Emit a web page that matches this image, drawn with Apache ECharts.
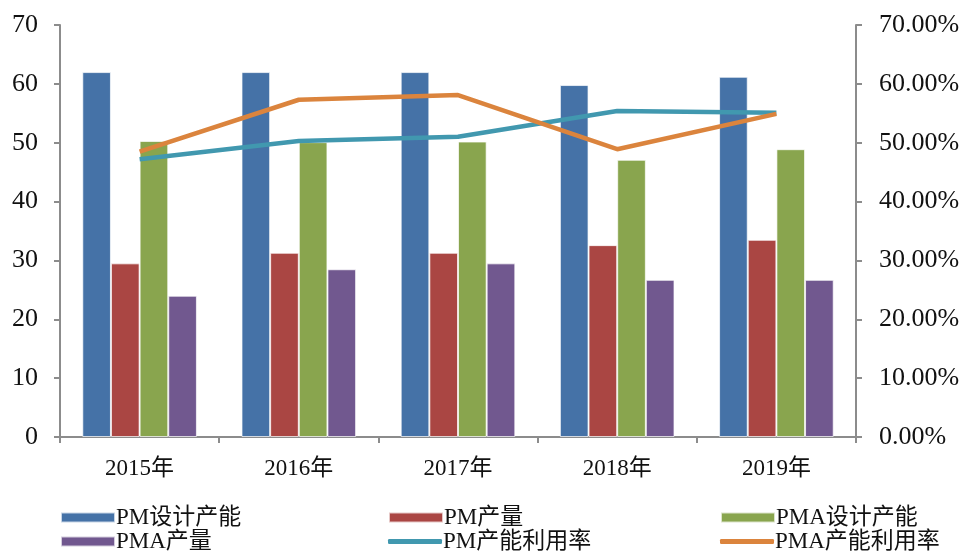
<!DOCTYPE html>
<html>
<head>
<meta charset="utf-8">
<script src="https://cdn.jsdelivr.net/npm/echarts@6/dist/echarts.min.js"></script>
<style>
  html, body { margin: 0; padding: 0; background: #fff; }
  #main { width: 965px; height: 554px; }
</style>
</head>
<body>
<div id="main"></div>
<script>
// 年份
const years = ["2015年", "2016年", "2017年", "2018年", "2019年"];
// 柱状数据（左轴）
const pmCapacity = [62, 62, 62, 59.8, 61.2];
const pmOutput = [29.5, 31.3, 31.3, 32.6, 33.5];
const pmaCapacity = [50.3, 50.1, 50.2, 47.1, 48.9];
const pmaOutput = [24.0, 28.5, 29.5, 26.7, 26.7];
// 利用率（右轴，%）
const pmRate = [47.2, 50.3, 51.0, 55.4, 55.1];
const pmaRate = [48.5, 57.3, 58.1, 48.9, 54.9];

const fontFamily = "'Liberation Serif', 'Noto Sans CJK SC', serif";
const axisColor = "#8c8c8c";

const chart = echarts.init(document.getElementById("main"));

// 每个图例单独放，位置跟原图对齐
function legendItem(name, left, top, isLine) {
  return {
    left: left,
    top: top,
    itemWidth: 54,
    itemHeight: isLine ? 5 : 10,
    icon: isLine ? "roundRect" : "rect",
    data: [name],
    textStyle: { fontFamily: fontFamily, fontSize: 23, color: "#111", padding: [0, 0, 0, -4] },
  };
}

const barStyle = (c) => ({ color: c, borderColor: "rgba(255,255,255,0.7)", borderWidth: 1 });

const option = {
  animation: false,
  color: ["#4572A7", "#AA4643", "#89A54E", "#71588F", "#4198AF", "#DB843D"],
  grid: { left: 60, right: 109, top: 25, bottom: 117 },
  legend: [
    legendItem("PM设计产能", 55, 501, false),
    legendItem("PM产量", 383, 501, false),
    legendItem("PMA设计产能", 715, 501, false),
    legendItem("PMA产量", 55, 525, false),
    legendItem("PM产能利用率", 383, 525, true),
    legendItem("PMA产能利用率", 715, 525, true),
  ],
  xAxis: {
    type: "category",
    data: years,
    axisLine: { lineStyle: { color: axisColor, width: 2 } },
    axisTick: { show: true, length: 6, lineStyle: { color: axisColor, width: 2 } },
    axisLabel: { fontFamily: fontFamily, fontSize: 23, color: "#111", margin: 20 },
  },
  yAxis: [
    {
      type: "value",
      min: 0,
      max: 70,
      interval: 10,
      axisLine: { show: true, lineStyle: { color: axisColor, width: 2 } },
      axisTick: { show: true, length: 6, lineStyle: { color: axisColor, width: 2 } },
      splitLine: { show: false },
      axisLabel: { fontFamily: fontFamily, fontSize: 26, color: "#111", margin: 22 },
    },
    {
      type: "value",
      min: 0,
      max: 70,
      interval: 10,
      position: "right",
      axisLine: { show: true, lineStyle: { color: axisColor, width: 2 } },
      axisTick: { show: true, length: 6, lineStyle: { color: axisColor, width: 2 } },
      splitLine: { show: false },
      axisLabel: {
        fontFamily: fontFamily,
        fontSize: 26,
        color: "#111",
        margin: 23,
        formatter: (v) => v.toFixed(2) + "%",
      },
    },
  ],
  series: [
    { name: "PM设计产能", type: "bar", data: pmCapacity, barGap: "0%", barCategoryGap: "28%", itemStyle: barStyle("#4572A7") },
    { name: "PM产量", type: "bar", data: pmOutput, itemStyle: barStyle("#AA4643") },
    { name: "PMA设计产能", type: "bar", data: pmaCapacity, itemStyle: barStyle("#89A54E") },
    { name: "PMA产量", type: "bar", data: pmaOutput, itemStyle: barStyle("#71588F") },
    {
      name: "PM产能利用率",
      type: "line",
      yAxisIndex: 1,
      data: pmRate,
      symbol: "none",
      lineStyle: { color: "#4198AF", width: 4.5 },
      itemStyle: { color: "#4198AF" },
    },
    {
      name: "PMA产能利用率",
      type: "line",
      yAxisIndex: 1,
      data: pmaRate,
      symbol: "none",
      lineStyle: { color: "#DB843D", width: 4.5 },
      itemStyle: { color: "#DB843D" },
    },
  ],
};

chart.setOption(option);
</script>
</body>
</html>
